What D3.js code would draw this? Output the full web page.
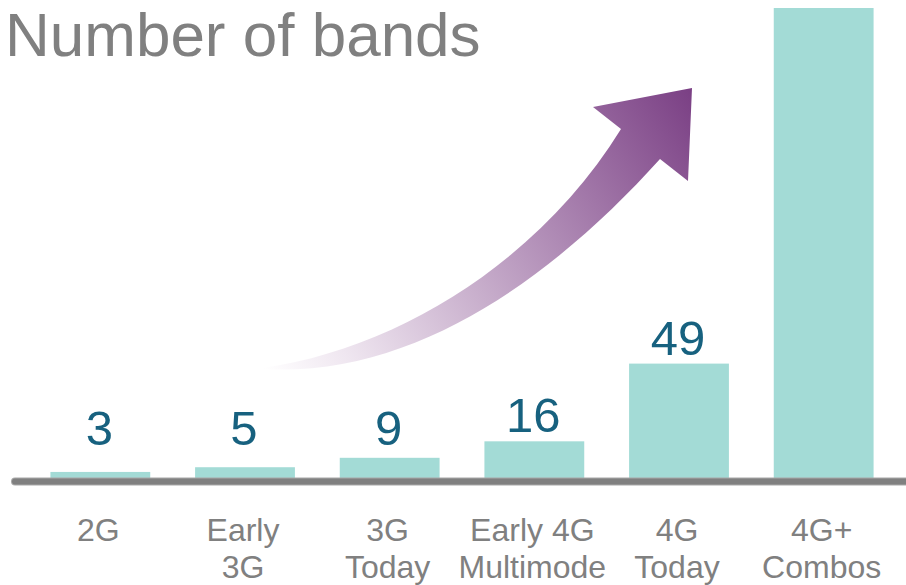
<!DOCTYPE html>
<html>
<head>
<meta charset="utf-8">
<script src="https://cdn.jsdelivr.net/npm/d3@7/dist/d3.min.js"></script>
<style>
  html, body { margin: 0; padding: 0; background: #ffffff; }
  svg { display: block; }
</style>
</head>
<body>
<svg id="chart" width="906" height="585"></svg>
<script>
// ---- data ----
const categories = ["2G", "Early 3G", "3G Today", "Early 4G Multimode", "4G Today", "4G+ Combos"];
const labelLines = [["2G"], ["Early", "3G"], ["3G", "Today"], ["Early 4G", "Multimode"], ["4G", "Today"], ["4G+", "Combos"]];
const values = [3, 5, 9, 16, 49, 200];
const valueLabels = ["3", "5", "9", "16", "49", ""];
const titleText = "Number of bands";

// ---- setup ----
const W = 906, H = 585;
const svg = d3.select("#chart");
const font = "'Liberation Sans', Arial, Helvetica, sans-serif";

const x = d3.scaleBand()
  .domain(categories)
  .range([28, 896])
  .paddingInner(0.31)
  .paddingOuter(0.155);

const y = d3.scaleLinear()
  .domain([0, 200])
  .range([479, 8]);

// ---- gradient for arrow ----
const defs = svg.append("defs");
const grad = defs.append("linearGradient")
  .attr("id", "arrowGrad")
  .attr("gradientUnits", "userSpaceOnUse")
  .attr("x1", 263).attr("y1", 368)
  .attr("x2", 692).attr("y2", 88);
grad.append("stop").attr("offset", 0).attr("stop-color", "#ffffff");
grad.append("stop").attr("offset", 0.15).attr("stop-color", "#efe6f0");
grad.append("stop").attr("offset", 1).attr("stop-color", "#7a3f84");

// ---- title ----
svg.append("text")
  .attr("x", 5)
  .attr("y", 56)
  .attr("font-family", font)
  .attr("font-size", 62)
  .attr("fill", "#808080")
  .text(titleText);

// ---- arrow ----
const p = d3.path();
p.moveTo(263, 368);
p.bezierCurveTo(400, 348, 540, 260, 621, 129);
p.lineTo(593, 107);
p.lineTo(692, 88);
p.lineTo(688, 181);
p.lineTo(660, 159);
p.bezierCurveTo(560, 270, 420, 378, 263, 369);
p.closePath();
svg.append("path")
  .attr("d", p.toString())
  .attr("fill", "url(#arrowGrad)");

// ---- bars ----
svg.append("g")
  .selectAll("rect")
  .data(values)
  .join("rect")
  .attr("x", (d, i) => x(categories[i]))
  .attr("width", x.bandwidth())
  .attr("y", d => y(d))
  .attr("height", d => y(0) - y(d))
  .attr("fill", "#a3dbd6");

// ---- value labels ----
svg.append("g")
  .selectAll("text")
  .data(values)
  .join("text")
  .attr("x", (d, i) => x(categories[i]) + x.bandwidth() / 2 - 1)
  .attr("y", d => Math.min(445, y(d) - 9))
  .attr("text-anchor", "middle")
  .attr("font-family", font)
  .attr("font-size", 49)
  .attr("fill", "#17617f")
  .text((d, i) => valueLabels[i]);

// ---- baseline axis ----
svg.append("line")
  .attr("x1", 15).attr("x2", W + 10)
  .attr("y1", 481.5).attr("y2", 481.5)
  .attr("stroke", "#a8a8a8")
  .attr("stroke-width", 8)
  .attr("stroke-linecap", "round");
svg.append("line")
  .attr("x1", 15).attr("x2", W + 10)
  .attr("y1", 481.5).attr("y2", 481.5)
  .attr("stroke", "#808080")
  .attr("stroke-width", 6)
  .attr("stroke-linecap", "round");

// ---- category axis ----
const axis = d3.axisBottom(x).tickSize(0).tickPadding(0);
const gx = svg.append("g")
  .attr("transform", "translate(0, 541)")
  .call(axis);
gx.select(".domain").remove();
gx.selectAll(".tick text").each(function(d) {
  const i = categories.indexOf(d);
  const t = d3.select(this);
  t.text(null)
    .attr("y", 0)
    .attr("dy", null)
    .attr("x", -2)
    .attr("font-family", font)
    .attr("font-size", 32)
    .attr("fill", "#808080");
  labelLines[i].forEach((line, k) => {
    t.append("tspan")
      .attr("x", -2)
      .attr("y", k * 37)
      .text(line);
  });
});
</script>
</body>
</html>
